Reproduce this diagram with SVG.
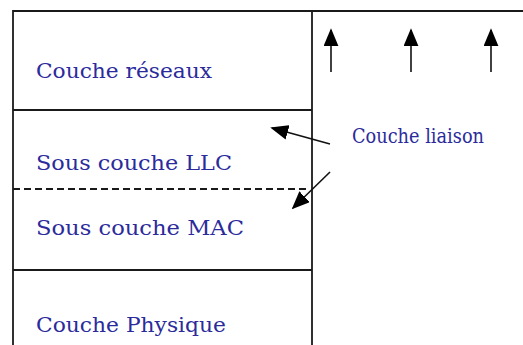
<svg xmlns="http://www.w3.org/2000/svg" width="523" height="345" viewBox="0 0 523 345">
<style>
.ln{stroke:#1a1a1a;stroke-width:1.8;fill:none}
.lbl{font-family:"DejaVu Serif","Liberation Serif",serif;fill:#2b2b9c;font-size:21px}
.ar{stroke:#111;stroke-width:1.6;fill:none}
</style>
<defs>
<marker id="ahb" viewBox="0 0 10 10" refX="9" refY="5" markerWidth="18" markerHeight="15" markerUnits="userSpaceOnUse" orient="auto" preserveAspectRatio="none">
<path d="M0,0 L10,5 L0,10 z" fill="#000"/>
</marker>
</defs>
<rect width="523" height="345" fill="#fff"/>
<g id="frame">
<path class="ln" d="M13,345 V11 H523 M312,11 V345 M13,110 H312 M13,270 H312"/>
<path class="ln" d="M13,189 H306" stroke-dasharray="7,4"/>
</g>
<g id="reseaux"><text class="lbl" x="36" y="78" textLength="176" lengthAdjust="spacingAndGlyphs">Couche réseaux</text></g>
<g id="llc"><text class="lbl" x="36" y="170" textLength="196" lengthAdjust="spacingAndGlyphs">Sous couche LLC</text></g>
<g id="mac"><text class="lbl" x="36" y="235" textLength="208" lengthAdjust="spacingAndGlyphs">Sous couche MAC</text></g>
<g id="physique"><text class="lbl" x="36" y="332" textLength="190" lengthAdjust="spacingAndGlyphs">Couche Physique</text></g>
<g id="liaison"><text class="lbl" x="352" y="143" font-size="17" textLength="132" lengthAdjust="spacingAndGlyphs">Couche liaison</text></g>
<g id="connectors">
<line class="ar" x1="331" y1="72" x2="331" y2="30" marker-end="url(#ahb)"/>
<line class="ar" x1="411" y1="72" x2="411" y2="30" marker-end="url(#ahb)"/>
<line class="ar" x1="491" y1="72" x2="491" y2="30" marker-end="url(#ahb)"/>
<line class="ar" x1="330" y1="144" x2="272" y2="128" marker-end="url(#ahb)"/>
<line class="ar" x1="330" y1="172" x2="293" y2="208" marker-end="url(#ahb)"/>
</g>
</svg>
